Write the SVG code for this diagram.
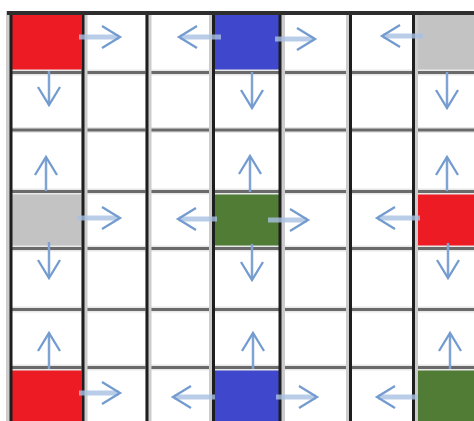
<svg xmlns="http://www.w3.org/2000/svg" width="474" height="421" viewBox="0 0 474 421">
<defs>
<style>
.halo-v{stroke:#cccccc;stroke-width:6}
.vl{stroke:#1e1e1e;stroke-width:3}
.halo-h{stroke:#e8e8e8;stroke-width:6}
.hl{stroke:#6a6a6a;stroke-width:3}
.red{fill:#ED1C24}.blue{fill:#3F48CC}.grey{fill:#C3C3C3}.green{fill:#517C35}
.hs{stroke:#a9c1e2;stroke-width:5;stroke-opacity:0.8;fill:none;marker-end:url(#ah)}
.vs{stroke:#7fa3d3;stroke-width:2.5;fill:none;marker-end:url(#ah)}
</style>
<marker id="ah" markerUnits="userSpaceOnUse" viewBox="-20 -14 24 28" refX="0" refY="0" markerWidth="24" markerHeight="28" orient="auto">
<path d="M-17,-11 L1,0 L-17,11" fill="none" stroke="#739bcf" stroke-width="2.3" stroke-linejoin="miter"/>
</marker>
</defs>
<rect width="474" height="421" fill="#ffffff"/>
<g id="cell-r0c0"><rect class="red" x="11" y="13" width="72" height="59"/></g>
<g id="cell-r0c3"><rect class="blue" x="213.5" y="13" width="67" height="59"/></g>
<g id="cell-r0c6"><rect class="grey" x="413.5" y="13" width="61" height="59"/></g>
<g id="cell-r3c0"><rect class="grey" x="11" y="191.5" width="72" height="57"/></g>
<g id="cell-r3c3"><rect class="green" x="213.5" y="191.5" width="67" height="57"/></g>
<g id="cell-r3c6"><rect class="red" x="413.5" y="191.5" width="61" height="57"/></g>
<g id="cell-r6c0"><rect class="red" x="11" y="367.5" width="72" height="54"/></g>
<g id="cell-r6c3"><rect class="blue" x="213.5" y="367.5" width="67" height="54"/></g>
<g id="cell-r6c6"><rect class="green" x="413.5" y="367.5" width="61" height="54"/></g>
<g id="grid">
<g class="halo-h">
<line x1="8" y1="72.5" x2="474" y2="72.5"/><line x1="8" y1="130" x2="474" y2="130"/>
<line x1="8" y1="191.5" x2="474" y2="191.5"/><line x1="8" y1="248.5" x2="474" y2="248.5"/>
<line x1="8" y1="309.5" x2="474" y2="309.5"/><line x1="8" y1="367.5" x2="474" y2="367.5"/>
</g>
<g class="hl">
<line x1="8" y1="72.5" x2="474" y2="72.5"/><line x1="8" y1="130" x2="474" y2="130"/>
<line x1="8" y1="191.5" x2="474" y2="191.5"/><line x1="8" y1="248.5" x2="474" y2="248.5"/>
<line x1="8" y1="309.5" x2="474" y2="309.5"/><line x1="8" y1="367.5" x2="474" y2="367.5"/>
</g>
<g class="halo-v">
<line x1="9" y1="11" x2="9" y2="421"/><line x1="84.5" y1="11" x2="84.5" y2="421"/>
<line x1="148.5" y1="11" x2="148.5" y2="421"/><line x1="212" y1="11" x2="212" y2="421"/>
<line x1="282" y1="11" x2="282" y2="421"/><line x1="349" y1="11" x2="349" y2="421"/>
<line x1="415" y1="11" x2="415" y2="421"/>
</g>
<g class="vl">
<line x1="11" y1="11" x2="11" y2="421"/><line x1="83" y1="11" x2="83" y2="421"/>
<line x1="147" y1="11" x2="147" y2="421"/><line x1="213.5" y1="11" x2="213.5" y2="421"/>
<line x1="280" y1="11" x2="280" y2="421"/><line x1="350.5" y1="11" x2="350.5" y2="421"/>
<line x1="413.5" y1="11" x2="413.5" y2="421"/>
</g>
<line x1="7" y1="13" x2="474" y2="13" stroke="#2e2e2e" stroke-width="4"/>
</g>
<g id="connectors">
<path class="hs" d="M79,37 H119"/>
<path class="hs" d="M221,37 H180"/>
<path class="hs" d="M275,39 H314"/>
<path class="hs" d="M423,36 H383"/>
<path class="hs" d="M77,218 H119"/>
<path class="hs" d="M217,219 H179"/>
<path class="hs" d="M268,220 H307"/>
<path class="hs" d="M420,218 H378"/>
<path class="hs" d="M79,393 H119"/>
<path class="hs" d="M215,397 H174"/>
<path class="hs" d="M276,397 H316"/>
<path class="hs" d="M418,397 H378"/>
<path class="vs" d="M49,71 V104"/>
<path class="vs" d="M252,72 V107"/>
<path class="vs" d="M447,72 V107"/>
<path class="vs" d="M46,191 V158"/>
<path class="vs" d="M250,192 V157"/>
<path class="vs" d="M447,191 V158"/>
<path class="vs" d="M49,242 V277"/>
<path class="vs" d="M252,244 V279"/>
<path class="vs" d="M448,243 V277"/>
<path class="vs" d="M49,369 V334"/>
<path class="vs" d="M253,369 V334"/>
<path class="vs" d="M450,369 V334"/>
</g>
</svg>
